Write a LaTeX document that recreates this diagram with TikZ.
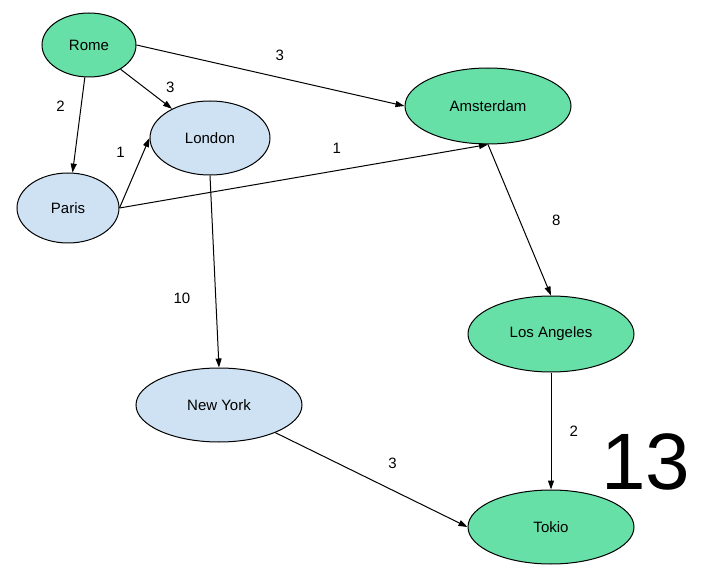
\documentclass[tikz,border=0pt]{standalone}
\usepackage{fontspec}
\setmainfont{Liberation Sans}
\usetikzlibrary{shapes.geometric,arrows.meta}
\definecolor{citygreen}{RGB}{103,224,168}
\definecolor{cityblue}{RGB}{207,226,243}

\begin{document}
\begin{tikzpicture}[x=1pt,y=-1pt,line width=1pt,>={Triangle[length=9pt,width=6pt]},
    every node/.style={font=\fontsize{15}{18}\selectfont},
    green city/.style={ellipse,draw,fill=citygreen,inner sep=0pt},
    blue city/.style={ellipse,draw,fill=cityblue,inner sep=0pt},
    weight/.style={inner sep=0pt}]
\useasboundingbox (0,0) rectangle (710,580);
      \node [green city,minimum width=94pt,minimum height=64pt] at (89,45) (rome) {Rome};
       \node [blue city,minimum width=120pt,minimum height=74pt] at (210,138) (london) {London};
        \node [blue city,minimum width=102pt,minimum height=70pt] at (68,208) (paris) {Paris};
         \node [green city,minimum width=166pt,minimum height=76pt] at (488,106) (amsterdam) {Amsterdam};
          \node [green city,minimum width=166pt,minimum height=76pt] at (551,334) (los angeles) {Los Angeles};
           \node [blue city,minimum width=166pt,minimum height=74pt] at (219,405) (new york) {New York};
            \node [green city,minimum width=166pt,minimum height=74pt] at (551,527) (tokio) {Tokio};
             \node [inner sep=0pt,font=\fontsize{80}{80}\selectfont] at (646,462) (total) {13};
%
%
\path[->] (rome.east) edge node [weight,pos=.535,above=16pt] {3} (amsterdam.west);
\path[->] (rome) edge node [weight,pos=.76,above right=6pt] {3} (london);
\path[->] (rome) edge node [weight,pos=.3,left=16pt] {2} (paris);
\path[->] (paris.east) edge node [weight,pos=.79,left=18pt] {1} (london.west);
\path[->] (paris.east) edge node [weight,pos=.59,above=17pt] {1} (amsterdam.south);
\path[->] (london.south) edge node [weight,pos=.64,left=25pt] {10} (new york.north);
\path[->] (amsterdam.south) edge node [weight,pos=.5,right=32pt] {8} (los angeles.north);
\path[->] (los angeles.south) edge node [weight,pos=.5,right=18pt] {2} (tokio.north);
\path[->] (new york) edge node [weight,pos=.61,above=21pt] {3} (tokio.west);

\end{tikzpicture}
\end{document}
